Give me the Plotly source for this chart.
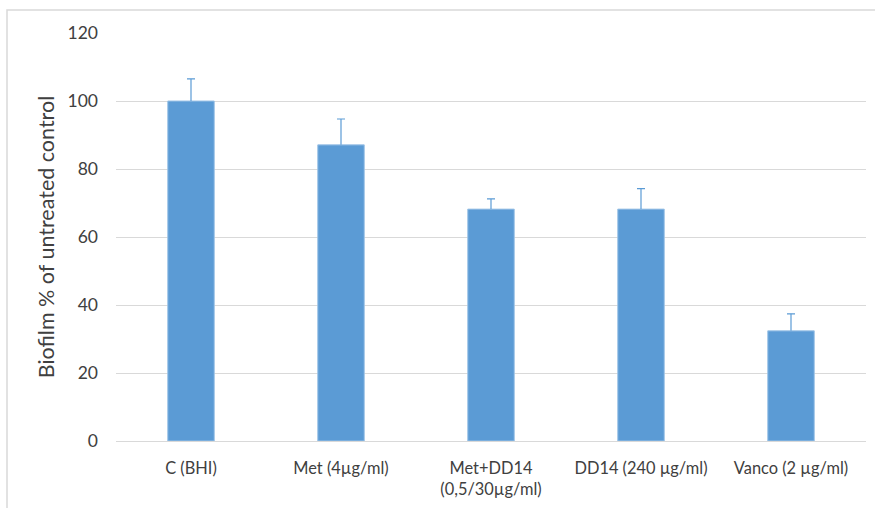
import plotly.graph_objects as go

categories = ["C (BHI)", "Met (4µg/ml)", "Met+DD14<br>(0,5/30µg/ml)", "DD14 (240 µg/ml)", "Vanco (2 µg/ml)"]
values = [100, 87.1, 68.2, 68.2, 32.4]
errors = [6.5, 7.6, 3.0, 6.0, 5.0]
y_ticks = [0, 20, 40, 60, 80, 100, 120]

W, H = 875, 508
ml, mr, mt, mb = 116, 9, 33, 67
pw, ph = W - ml - mr, H - mt - mb

tops = [v + e for v, e in zip(values, errors)]

fig = go.Figure()
fig.add_trace(go.Bar(
    x=categories, y=values,
    marker=dict(color="#5B9BD5", line=dict(color="#9DC3E6", width=1)),
    error_y=dict(type="data", array=errors, arrayminus=[0] * len(errors), symmetric=False,
                 color="#5B9BD5", thickness=1.2, width=0),
))
# caps only at the top end of the error bars
fig.add_trace(go.Scatter(
    x=categories, y=tops, mode="markers", marker=dict(opacity=0, size=1),
    error_y=dict(type="data", array=[0] * len(tops), color="#5B9BD5", thickness=1.2, width=4),
    hoverinfo="skip",
))

fig.update_layout(
    width=W, height=H,
    margin=dict(l=ml, r=mr, t=mt, b=mb),
    paper_bgcolor="white", plot_bgcolor="white",
    bargap=0.69,
    font=dict(family="Lato, 'Open Sans', sans-serif", color="#595959"),
    showlegend=False,
    xaxis=dict(showgrid=False, showline=True, linecolor="#D9D9D9", linewidth=1,
               tickfont=dict(size=16.4, color="#404040"), ticks="", ticklabelstandoff=12),
    yaxis=dict(range=[0, 120], tickvals=y_ticks, showgrid=True, gridcolor="#D9D9D9",
               gridwidth=1, zeroline=False, showline=False,
               tickfont=dict(size=17.5, color="#404040"), ticklabelstandoff=17,
               title=dict(text="Biofilm % of untreated control", font=dict(size=21.5, color="#404040"),
                          standoff=7)),
    shapes=[dict(type="rect", xref="paper", yref="paper",
                 x0=(7 - ml) / pw, x1=(W + 5 - ml) / pw,
                 y0=-(H + 5 - mt - ph) / ph, y1=1 + (mt - 10) / ph,
                 line=dict(color="#D9D9D9", width=1.5), fillcolor="rgba(0,0,0,0)", layer="below")],
)

fig.write_html("out.html", config={"displayModeBar": False},
               post_script="document.body.style.margin='0';document.body.style.padding='0';")
